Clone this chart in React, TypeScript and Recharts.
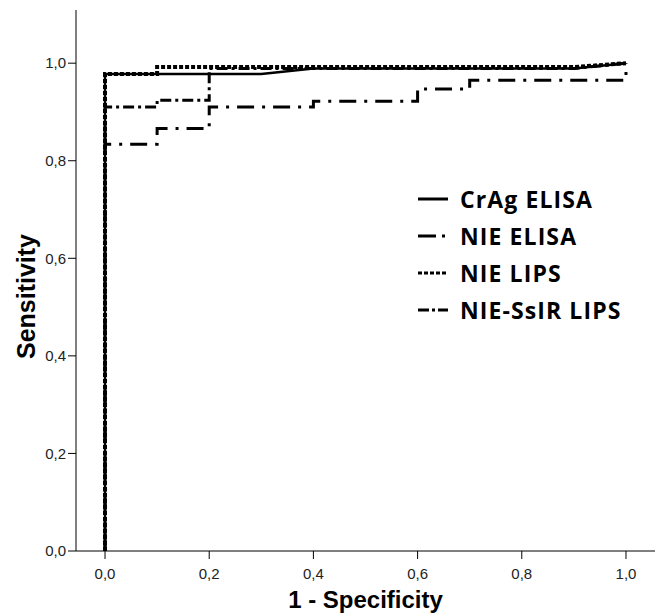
import { LineChart, Line, XAxis, YAxis, Legend, Label } from "recharts";

// tick values
const xTicks = [0, 0.2, 0.4, 0.6, 0.8, 1];
const yTicks = [0, 0.2, 0.4, 0.6, 0.8, 1];

// ROC curves: 1 - specificity (fpr) / sensitivity (tpr)
const crAgFpr = [0, 0, 0.3, 0.4, 0.9, 1];
const crAgTpr = [0, 0.978, 0.978, 0.989, 0.989, 1];

const nieElisaFpr = [0, 0, 0.1, 0.1, 0.2, 0.2, 0.4, 0.4, 0.6, 0.6, 0.7, 0.7, 1, 1];
const nieElisaTpr = [0, 0.834, 0.834, 0.866, 0.866, 0.91, 0.91, 0.922, 0.922, 0.947, 0.947, 0.965, 0.965, 1];

const nieLipsFpr = [0, 0, 0.1, 0.1, 0.9, 1];
const nieLipsTpr = [0, 0.978, 0.978, 0.992, 0.992, 1];

const ssirFpr = [0, 0, 0.1, 0.1, 0.2, 0.2, 0.9, 1];
const ssirTpr = [0, 0.91, 0.91, 0.924, 0.924, 0.989, 0.989, 1];

const zip = (xs: number[], ys: number[]) => xs.map((x, i) => ({ x, y: ys[i] }));

const series = [
  { name: "CrAg ELISA", data: zip(crAgFpr, crAgTpr), width: 2.5, dash: undefined, legendDash: undefined },
  { name: "NIE ELISA", data: zip(nieElisaFpr, nieElisaTpr), width: 3, dash: "17 8 3 8", legendDash: "18 6 3 20" },
  { name: "NIE-SsIR LIPS", data: zip(ssirFpr, ssirTpr), width: 3, dash: "11 4 3 4", legendDash: "11 3 3 3 11" },
  { name: "NIE LIPS", data: zip(nieLipsFpr, nieLipsTpr), width: 4, dash: "4 2", legendDash: "4 2" },
];
const legendOrder = ["CrAg ELISA", "NIE ELISA", "NIE LIPS", "NIE-SsIR LIPS"];

const fmt = (v: number) => v.toFixed(1).replace(".", ",");

const XTitle = (props: any) => {
  const vb = props.viewBox;
  return (
    <text x={vb.x + vb.width / 2} y={vb.y + 57} textAnchor="middle" fontSize={24} fontWeight="bold" fill="#000">
      1 - Specificity
    </text>
  );
};

const YTitle = (props: any) => {
  const vb = props.viewBox;
  const cx = vb.x + 35;
  const cy = vb.y + vb.height / 2 + 16;
  return (
    <text x={cx} y={cy} transform={`rotate(-90 ${cx} ${cy})`} textAnchor="middle" fontSize={25} fontWeight="bold" fill="#000">
      Sensitivity
    </text>
  );
};

const RocLegend = () => (
  <div style={{ fontFamily: "'Open Sans', sans-serif" }}>
    {legendOrder.map((n) => {
      const s = series.find((d) => d.name === n)!;
      return (
        <div key={n} style={{ display: "flex", alignItems: "center", height: 36.8 }}>
          <svg width={30} height={6} style={{ marginRight: 12 }}>
            <line x1={0} y1={3} x2={30} y2={3} stroke="#000" strokeWidth={3} strokeDasharray={s.legendDash} />
          </svg>
          <span style={{ fontSize: 23, fontWeight: 700, letterSpacing: 1.1, color: "#000" }}>{n}</span>
        </div>
      );
    })}
  </div>
);

export default function App() {
  return (
    <div style={{ position: "absolute", left: 0, top: 0, width: 657, height: 613, background: "#fff" }}>
      <LineChart
        width={657}
        height={613}
        margin={{ top: 10, right: 2, bottom: 0, left: 0 }}
        style={{ fontFamily: "'Liberation Sans', Arial, sans-serif" }}
      >
        <XAxis
          xAxisId="b"
          type="number"
          dataKey="x"
          domain={[-0.0557, 1.0557]}
          ticks={xTicks}
          allowDataOverflow
          height={62}
          tickSize={8}
          tickMargin={9}
          tickFormatter={fmt}
          stroke="#000"
          tick={{ fill: "#222", fontSize: 15 }}
          label={<Label content={XTitle} />}
        />
        <XAxis xAxisId="t" orientation="top" type="number" domain={[-0.0557, 1.0557]} height={0} tick={false} tickLine={false} stroke="#000" />
        <YAxis
          yAxisId="l"
          type="number"
          domain={[0, 1.109]}
          ticks={yTicks}
          allowDataOverflow
          width={76}
          tickSize={8}
          tickMargin={2}
          tickFormatter={fmt}
          stroke="#000"
          tick={{ fill: "#222", fontSize: 15 }}
          label={<Label content={YTitle} />}
        />
        <YAxis yAxisId="r" orientation="right" type="number" domain={[0, 1.109]} width={0} tick={false} tickLine={false} stroke="#000" />
        {series.map((s) => (
          <Line
            key={s.name}
            xAxisId="b"
            yAxisId="l"
            data={s.data}
            dataKey="y"
            name={s.name}
            type="linear"
            stroke="#000"
            strokeWidth={s.width}
            strokeDasharray={s.dash}
            dot={false}
            activeDot={false}
            isAnimationActive={false}
          />
        ))}
        <Legend
          layout="horizontal"
          verticalAlign="middle"
          align="center"
          wrapperStyle={{ left: 418, top: 181, width: 238 }}
          content={RocLegend}
        />
      </LineChart>
    </div>
  );
}
